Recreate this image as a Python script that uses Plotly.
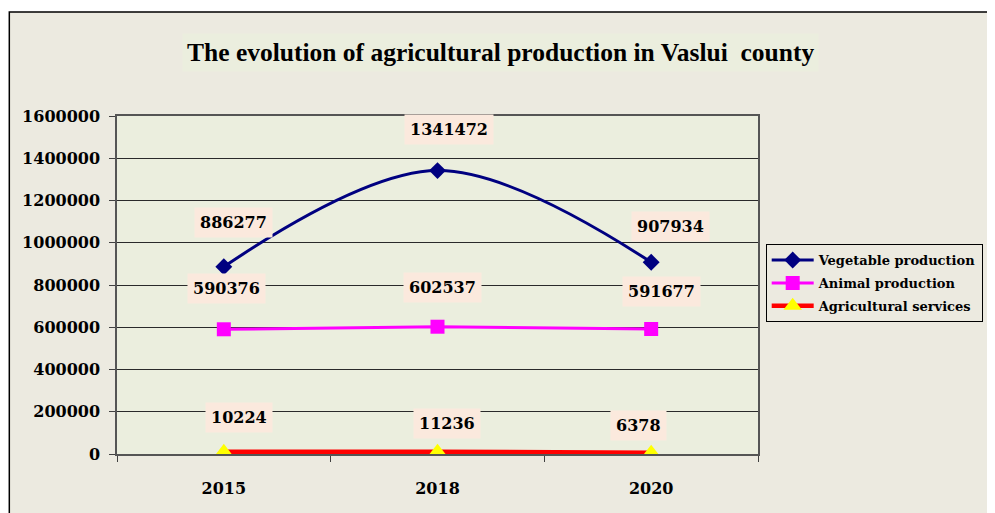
import plotly.graph_objects as go

years = ["2015", "2018", "2020"]
vegetable = [886277, 1341472, 907934]
animal = [590376, 602537, 591677]
services = [10224, 11236, 6378]
series_names = ["Vegetable production", "Animal production", "Agricultural services"]
title_text = "The evolution of agricultural production in Vaslui  county"

# label offsets in pixels (dx, dy) - styling only
veg_off = [(10, 44), (11, 41), (19, 36)]
ani_off = [(3, 41), (5, 39), (10, 38)]
srv_off = [(15, 34), (9, 28), (-13, 27)]

OUTER_BG = "#ECEAE0"
PLOT_BG = "#EBEEDE"
LABEL_BG = "#FBE9DD"

fig = go.Figure()
fig.add_trace(go.Scatter(x=years, y=vegetable, name=series_names[0], mode="lines+markers",
                         line=dict(color="#000080", width=3, shape="spline"),
                         marker=dict(symbol="diamond", size=13, color="#000080"),
                         legendgroup="a"))
fig.add_trace(go.Scatter(x=years, y=animal, name=series_names[1], mode="lines+markers",
                         line=dict(color="#FF00FF", width=3),
                         marker=dict(symbol="square", size=14, color="#FF00FF"),
                         legendgroup="b"))
fig.add_trace(go.Scatter(x=years, y=services, name=series_names[2], mode="lines+markers",
                         line=dict(color="#FF0000", width=4.5),
                         marker=dict(symbol="triangle-up", size=16, color="#FFFF00"),
                         legendgroup="c"))

for vals, offs in ((vegetable, veg_off), (animal, ani_off), (services, srv_off)):
    for i, (yv, (dx, dy)) in enumerate(zip(vals, offs)):
        fig.add_annotation(x=i, y=yv, text=str(yv), showarrow=False,
                           xshift=dx, yshift=dy, bgcolor=LABEL_BG, borderpad=5,
                           xanchor="center", yanchor="middle",
                           font=dict(family="DejaVu Serif", size=16, color="black", weight="bold"))

fig.add_annotation(xref="paper", yref="paper", x=0.599, y=1.189, text="<b>" + title_text + "</b>",
                   showarrow=False, bgcolor=PLOT_BG, borderpad=4,
                   xanchor="center", yanchor="middle",
                   font=dict(family="Liberation Serif", size=25.5, color="black"))

# outer frame and plot area fill
fig.add_shape(type="rect", xref="paper", yref="paper", x0=-0.168, x1=1.5, y0=-0.3, y1=1.308,
              line=dict(color="black", width=1.5), fillcolor=OUTER_BG, layer="below")
fig.add_shape(type="rect", xref="paper", yref="paper", x0=0, x1=1, y0=0, y1=1,
              line=dict(width=0), fillcolor=PLOT_BG, layer="below")

fig.update_layout(
    width=987, height=505,
    margin=dict(l=109, r=234, t=108, b=59),
    paper_bgcolor="white", plot_bgcolor="rgba(0,0,0,0)",
    showlegend=True,
    legend=dict(x=1.012, y=0.621, xanchor="left", yanchor="top",
                bgcolor=OUTER_BG, bordercolor="black", borderwidth=1,
                font=dict(family="DejaVu Serif", size=13, color="black", weight="bold"),
                tracegroupgap=3, traceorder="grouped", itemwidth=42),
    xaxis=dict(type="category", range=[-0.5, 2.5], tickson="boundaries", ticks="outside", ticklen=6,
               tickcolor="#404040", showgrid=False, showline=True, linecolor="#555555",
               linewidth=1.5, mirror=True, ticklabelstandoff=19, tickangle=0, automargin=False,
               tickfont=dict(family="DejaVu Serif", size=16, color="black", weight="bold")),
    yaxis=dict(range=[0, 1600000], dtick=200000, tickformat="d", ticks="outside", ticklen=6,
               tickcolor="#404040", showgrid=True, gridcolor="#2a2a2a", gridwidth=1,
               showline=True, linecolor="#555555", linewidth=1.5, mirror=True,
               zeroline=False, ticklabelstandoff=6, automargin=False,
               tickfont=dict(family="DejaVu Serif", size=16, color="black", weight="bold")),
)

fig.write_html("out.html")
